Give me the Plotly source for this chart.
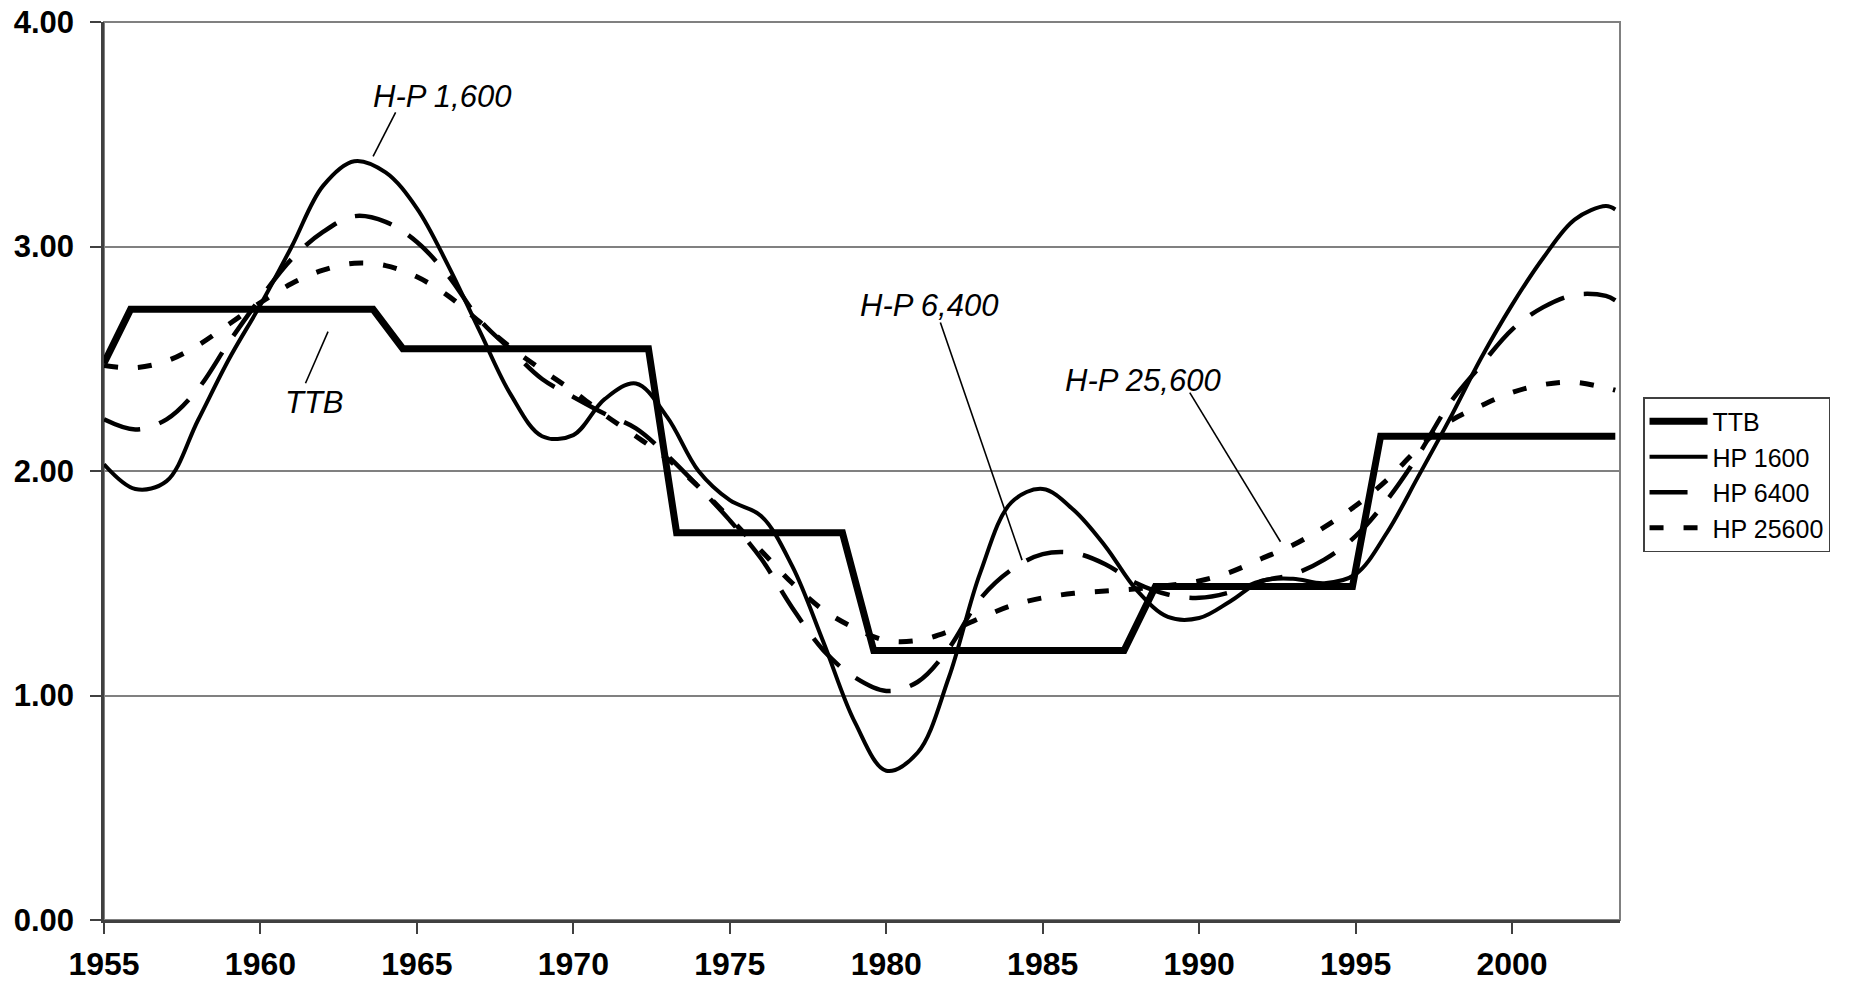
import plotly.graph_objects as go

# ---------------- data ----------------
years = [1955, 1956, 1957, 1958, 1959, 1960, 1961, 1962, 1963, 1964,
         1965, 1966, 1967, 1968, 1969, 1970, 1971, 1972, 1973, 1974,
         1975, 1976, 1977, 1978, 1979, 1980, 1981, 1982, 1983, 1984,
         1985, 1986, 1987, 1988, 1989, 1990, 1991, 1992, 1993, 1994,
         1995, 1996, 1997, 1998, 1999, 2000, 2001, 2002, 2003, 2003.3]

hp1600 = [2.03, 1.92, 1.955, 2.225, 2.50, 2.74, 3.00, 3.27, 3.38, 3.33,
          3.17, 2.915, 2.625, 2.34, 2.155, 2.16, 2.32, 2.39, 2.24, 2.00,
          1.87, 1.80, 1.575, 1.235, 0.88, 0.665, 0.745, 1.08, 1.545, 1.86,
          1.92, 1.825, 1.665, 1.47, 1.35, 1.345, 1.42, 1.51, 1.52, 1.50,
          1.54, 1.725, 1.975, 2.23, 2.50, 2.74, 2.95, 3.12, 3.18, 3.165]

hp6400 = [2.23, 2.185, 2.23, 2.365, 2.575, 2.77, 2.945, 3.065, 3.135, 3.11,
          3.02, 2.87, 2.675, 2.54, 2.41, 2.33, 2.255, 2.19, 2.07, 1.93,
          1.78, 1.61, 1.39, 1.20, 1.08, 1.02, 1.06, 1.21, 1.43, 1.56,
          1.63, 1.635, 1.585, 1.50, 1.45, 1.435, 1.46, 1.51, 1.54, 1.605,
          1.71, 1.87, 2.07, 2.30, 2.47, 2.63, 2.73, 2.785, 2.78, 2.76]

hp25600 = [2.47, 2.46, 2.49, 2.56, 2.655, 2.75, 2.835, 2.895, 2.925, 2.915,
           2.865, 2.78, 2.665, 2.55, 2.45, 2.355, 2.25, 2.155, 2.055, 1.93,
           1.79, 1.645, 1.50, 1.38, 1.30, 1.245, 1.245, 1.285, 1.345, 1.40,
           1.435, 1.455, 1.465, 1.475, 1.49, 1.51, 1.55, 1.61, 1.67, 1.75,
           1.845, 1.96, 2.10, 2.22, 2.29, 2.35, 2.385, 2.395, 2.37, 2.36]

# TTB step series (corner points)
ttb_x = [1955.0, 1955.85, 1963.6, 1964.55, 1972.4, 1973.3, 1978.6, 1979.6,
         1987.6, 1988.6, 1994.9, 1995.8, 2003.3]
ttb_y = [2.48, 2.72, 2.72, 2.545, 2.545, 1.725, 1.725, 1.20,
         1.20, 1.485, 1.485, 2.155, 2.155]

series_names = ["TTB", "HP 1600", "HP 6400", "HP 25600"]

x_ticks = [1955, 1960, 1965, 1970, 1975, 1980, 1985, 1990, 1995, 2000]
y_ticks = [0, 1, 2, 3, 4]
y_tick_text = ["0.00", "1.00", "2.00", "3.00", "4.00"]

# in-chart labels and their leader lines (data coordinates)
label_text = ["H-P 1,600", "TTB", "H-P 6,400", "H-P 25,600"]
label_x = [1965.80, 1961.73, 1981.38, 1988.20]
label_y = [3.667, 2.303, 2.737, 2.401]
leader_x0 = [1964.32, 1962.16, 1981.73, 1989.70]
leader_y0 = [3.597, 2.621, 2.661, 2.349]
leader_x1 = [1963.60, 1961.44, 1984.34, 1992.60]
leader_y1 = [3.401, 2.391, 1.603, 1.685]

# ---------------- figure ----------------
fig = go.Figure()

fig.add_trace(go.Scatter(x=ttb_x, y=ttb_y, mode="lines", name=series_names[0],
                         line=dict(color="black", width=7)))
fig.add_trace(go.Scatter(x=years, y=hp1600, mode="lines", name=series_names[1],
                         line=dict(color="black", width=4, shape="spline")))
fig.add_trace(go.Scatter(x=years, y=hp6400, mode="lines", name=series_names[2],
                         line=dict(color="black", width=4.5, shape="spline",
                                   dash="38px,20px")))
fig.add_trace(go.Scatter(x=years, y=hp25600, mode="lines", name=series_names[3],
                         line=dict(color="black", width=5, shape="spline",
                                   dash="14px,20px")))

shapes = [dict(type="rect", xref="paper", yref="paper", x0=0, y0=0, x1=1, y1=1,
               line=dict(color="#808080", width=2), layer="below")]
for x0, y0, x1, y1 in zip(leader_x0, leader_y0, leader_x1, leader_y1):
    shapes.append(dict(type="line", xref="x", yref="y", x0=x0, y0=y0, x1=x1, y1=y1,
                       line=dict(color="black", width=1.6)))

annotations = []
for t, x, y in zip(label_text, label_x, label_y):
    annotations.append(dict(text=t, x=x, y=y, xref="x", yref="y", showarrow=False,
                            xanchor="center", yanchor="middle",
                            font=dict(family="Liberation Sans, Arial, sans-serif",
                                      size=31, color="black", style="italic")))

# the page puts the figure 8 px from its top-left corner, so the figure is
# sized to end at the edges of the 1870x981 window
fig.update_layout(
    width=1862, height=973,
    margin=dict(l=96, r=250, t=14, b=61),
    paper_bgcolor="white", plot_bgcolor="rgba(0,0,0,0)",
    shapes=shapes,
    annotations=annotations,
    showlegend=True,
    legend=dict(x=1.0152, y=0.5824, xanchor="left", yanchor="top",
                bgcolor="white", bordercolor="#404040", borderwidth=1.5,
                font=dict(family="Liberation Sans, Arial, sans-serif", size=25,
                          color="black"),
                itemwidth=58, traceorder="normal"),
    xaxis=dict(range=[1955, 2003.45], tickmode="array", tickvals=x_ticks,
               showgrid=False, zeroline=False, automargin=False,
               ticklabeloverflow="allow",
               showline=True, linecolor="#404040", linewidth=2.5,
               ticks="outside", ticklen=11, tickwidth=1.5, tickcolor="#404040",
               ticklabelstandoff=3,
               tickfont=dict(family="Liberation Sans Narrow, Liberation Sans, Arial, sans-serif",
                             size=32, color="black", weight="bold")),
    yaxis=dict(range=[0, 4], tickmode="array", tickvals=y_ticks, ticktext=y_tick_text,
               showgrid=True, gridcolor="#808080", gridwidth=1.6, zeroline=False,
               automargin=False, ticklabeloverflow="allow",
               showline=True, linecolor="#404040", linewidth=2.5,
               ticks="outside", ticklen=11, tickwidth=1.5, tickcolor="#404040",
               ticklabelstandoff=10,
               tickfont=dict(family="Liberation Sans, Arial, sans-serif",
                             size=31, color="black", weight="bold")),
)

fig.write_html("out.html")
